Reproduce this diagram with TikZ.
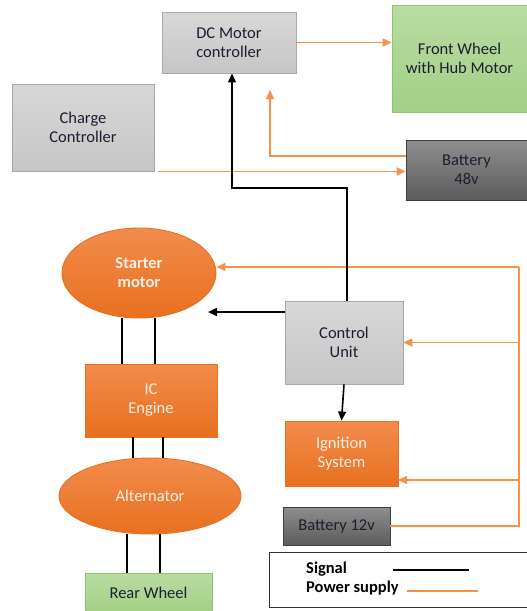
\documentclass[tikz,border=0pt]{standalone}
\usepackage{fontspec}
\setmainfont{Carlito}
\usetikzlibrary{arrows.meta,shapes.geometric}
\definecolor{orgtop}{HTML}{F28C4C}
\definecolor{orgbot}{HTML}{E8701F}
\definecolor{orgline}{HTML}{F4914D}
\definecolor{gtop}{HTML}{D8D8D8}
\definecolor{gbot}{HTML}{C6C6C6}
\definecolor{gline}{HTML}{A9A9A9}
\definecolor{dtop}{HTML}{8E8E8E}
\definecolor{dbot}{HTML}{5C5C5C}
\definecolor{dline}{HTML}{3F3F3F}
\definecolor{grtop}{HTML}{B9DCA2}
\definecolor{grbot}{HTML}{A3CF86}
\definecolor{grline}{HTML}{8DC36D}
\definecolor{txt}{HTML}{1E1E32}
\definecolor{wtxt}{HTML}{FDF0E6}
\begin{document}
\begin{tikzpicture}[x=1pt,y=-1pt,
  box/.style={draw, line width=0.9pt, inner sep=0pt, align=center,
    font=\fontsize{16.5}{19}\selectfont},
  graybox/.style={box, draw=gline, top color=gtop, bottom color=gbot, text=txt},
  darkbox/.style={box, draw=dline, top color=dtop, bottom color=dbot, text=txt},
  greenbox/.style={box, draw=grline, top color=grtop, bottom color=grbot, text=txt},
  orgbox/.style={box, draw=orgbot, top color=orgtop, bottom color=orgbot, text=wtxt},
  orgell/.style={orgbox, ellipse},
  pw/.style={draw=orgline, line width=1.7pt},
  pwa/.style={pw, -{Triangle[length=9pt,width=8pt]}},
  sg/.style={draw=black, line width=1.6pt},
  sga/.style={sg, -{Triangle[length=9pt,width=8pt]}},
  legtext/.style={anchor=base west, inner sep=0pt, font=\fontsize{16.5}{19}\selectfont\bfseries}]
\useasboundingbox (0,0) rectangle (527,611);
\fill[white] (0,0) rectangle (527,611);

% nodes
\node[graybox, minimum width=134pt, minimum height=61pt] (dcm) at (229,42.5) {DC Motor\\controller};
\node[greenbox, minimum width=135pt, minimum height=107pt] (fw) at (459.5,58.5) {Front Wheel\\with Hub Motor};
\node[graybox, minimum width=142pt, minimum height=87pt] (cc) at (83,127.5) {Charge\\Controller};
\node[darkbox, minimum width=121pt, minimum height=60pt] (b48) at (466.5,170) {Battery\\48v};
\node[orgell, minimum width=154pt, minimum height=90pt, font=\fontsize{16.5}{19}\selectfont\bfseries] (sm) at (139,273) {Starter\\motor};
\node[graybox, minimum width=118pt, minimum height=83pt] (cu) at (344,342.5) {Control\\Unit};
\node[orgbox, minimum width=132pt, minimum height=73pt] (ic) at (151,400.5) {IC\\Engine};
\node[orgbox, minimum width=113pt, minimum height=65pt] (ign) at (341.5,453.5) {Ignition\\System};
\node[orgell, minimum width=182pt, minimum height=76pt] (alt) at (150,496) {Alternator};
\node[darkbox, minimum width=107pt, minimum height=38pt] (b12) at (336.5,526) {Battery 12v};
\node[greenbox, minimum width=127pt, minimum height=40pt] (rw) at (148.5,593) {Rear Wheel};
\node[draw=black!80, line width=0.9pt, minimum width=262pt, minimum height=55pt, inner sep=0pt] (leg) at (400,579.5) {};
\node[legtext] (lsig) at (306,573) {Signal};
\node[legtext] (lpow) at (306,592) {Power supply};

% free ends
\coordinate (dcmin) at (270,90);
\coordinate (smin) at (208,312);
\coordinate (bus) at (519,267);
\coordinate (ignin) at (398,480);
\coordinate (s1) at (393,570);
\coordinate (s2) at (469,570);
\coordinate (p1) at (407,591);
\coordinate (p2) at (478,591);

% power connectors
\draw[pwa] (dcm.east) -- (fw.west |- dcm.east);
\draw[pwa] ([yshift=14pt]b48.west) -| (dcmin);
\draw[pwa] ([xshift=4pt]cc.south east) -- (b48.west |- cc.south east);
\draw[pw] (b12.east) -- (bus |- b12.east) -- (bus);
\draw[pwa] (bus) -- (sm.east |- bus);
\draw[pwa] (bus |- cu.east) -- (cu.east);
\draw[pwa] (bus |- ignin) -- (ignin);

% signal connectors
\draw[sga] ([xshift=3pt]cu.north) -- (347,188) -- (232,188) -- ([xshift=3pt]dcm.south);
\draw[sga] (cu.west |- smin) -- (smin);
\draw[sga] (cu.south) -- (ign.north);

% mechanical links
\draw[sg] ([xshift=-29pt]ic.north) -- ([xshift=-29pt]ic.north |- sm.south);
\draw[sg] ([xshift=4pt]ic.north) -- ([xshift=4pt]ic.north |- sm.south);
\draw[sg] ([xshift=-18pt]ic.south) -- ([xshift=-18pt]ic.south |- alt.north);
\draw[sg] ([xshift=12pt]ic.south) -- ([xshift=12pt]ic.south |- alt.north);
\draw[sg] ([xshift=-21.5pt]rw.north) -- ([xshift=-21.5pt]rw.north |- alt.south);
\draw[sg] ([xshift=11.5pt]rw.north) -- ([xshift=11.5pt]rw.north |- alt.south);

% legend lines
\draw[sg] (s1) -- (s2);
\draw[pw] (p1) -- (p2);
\end{tikzpicture}
\end{document}
